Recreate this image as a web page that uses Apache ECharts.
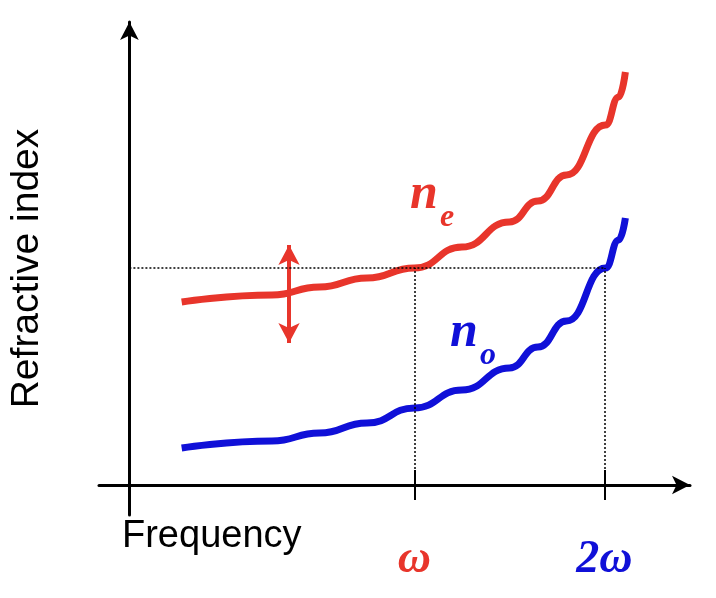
<!DOCTYPE html>
<html>
<head>
<meta charset="UTF-8" />
<script src="https://cdn.jsdelivr.net/npm/echarts@6/dist/echarts.min.js"></script>
<style>
  html, body, #chart { width: 100%; height: 100%; margin: 0; padding: 0; overflow: hidden; background: #fff; }
</style>
</head>
<body>
<div id="chart"></div>
<script>
// frequency (arbitrary units, omega = 3, 2omega = 5)
const freq = [0.55, 1.5, 2, 2.5, 3, 3.5, 4, 4.3, 4.6, 5.01, 5.15, 5.22];
const nExtra = [1.83, 1.9, 1.98, 2.07, 2.17, 2.38, 2.63, 2.84, 3.1, 3.6, 3.88, 4.13];
const nOrd = [0.37, 0.44, 0.52, 0.62, 0.77, 0.95, 1.17, 1.38, 1.64, 2.17, 2.45, 2.67];
const omega = 3, omega2 = 5, crossN = 2.17;
const tickLabels = ['ω', '2ω'];
const arrowX = 1.68, arrowTop = 2.4, arrowBottom = 1.42;

const chart = echarts.init(document.getElementById('chart'));
const pair = (xs, ys) => xs.map((x, i) => [x, ys[i]]);

chart.setOption({
  animation: false,
  grid: { left: 68, right: 26, top: 22, bottom: 83 },
  xAxis: {
    type: 'value', min: -0.32, max: 5.9,
    splitLine: { show: false },
    axisLine: { onZero: true, symbol: ['none', 'arrow'], symbolSize: [14, 18], lineStyle: { color: '#000', width: 3 } },
    axisTick: { show: false },
    axisLabel: {
      customValues: [omega, omega2], margin: 22,
      formatter: v => v === omega ? '{a|' + tickLabels[0] + '}' : '{b|' + tickLabels[1] + '}',
      rich: {
        a: { color: '#e8352b', fontSize: 46, fontStyle: 'italic', fontWeight: 'bold', fontFamily: 'Liberation Serif' },
        b: { color: '#1010d8', fontSize: 46, fontStyle: 'italic', fontWeight: 'bold', fontFamily: 'Liberation Serif' }
      }
    }
  },
  yAxis: {
    type: 'value', min: -0.3, max: 4.63,
    splitLine: { show: false },
    axisLine: { onZero: true, symbol: ['none', 'arrow'], symbolSize: [14, 18], lineStyle: { color: '#000', width: 3 } },
    axisTick: { show: false }, axisLabel: { show: false },
    name: 'Refractive index', nameLocation: 'middle', nameRotate: 90, nameGap: 52,
    nameTextStyle: { fontSize: 39, color: '#000', fontFamily: 'Liberation Sans' }
  },
  graphic: [
    { type: 'text', left: 122, top: 518, style: { text: 'Frequency', fontSize: 38, fill: '#000', fontFamily: 'Liberation Sans' } },
    { type: 'text', left: 410, top: 170, style: { text: 'n', fontSize: 50, fontStyle: 'italic', fontWeight: 'bold', fill: '#e8352b', fontFamily: 'Liberation Serif' } },
    { type: 'text', left: 440, top: 202, style: { text: 'e', fontSize: 32, fontStyle: 'italic', fontWeight: 'bold', fill: '#e8352b', fontFamily: 'Liberation Serif' } },
    { type: 'text', left: 450, top: 308, style: { text: 'n', fontSize: 50, fontStyle: 'italic', fontWeight: 'bold', fill: '#1010d8', fontFamily: 'Liberation Serif' } },
    { type: 'text', left: 480, top: 340, style: { text: 'o', fontSize: 32, fontStyle: 'italic', fontWeight: 'bold', fill: '#1010d8', fontFamily: 'Liberation Serif' } }
  ],
  series: [
    {
      type: 'line', data: pair(freq, nExtra), smooth: true, smoothMonotone: 'x', showSymbol: false,
      lineStyle: { color: '#e8352b', width: 7 },
      markLine: {
        silent: true, symbol: ['arrow', 'arrow'], symbolSize: [16, 20], label: { show: false },
        lineStyle: { color: '#e8352b', width: 4, type: 'solid' },
        data: [[{ coord: [arrowX, arrowTop] }, { coord: [arrowX, arrowBottom] }]]
      }
    },
    {
      type: 'line', data: pair(freq, nOrd), smooth: true, smoothMonotone: 'x', showSymbol: false,
      lineStyle: { color: '#1010d8', width: 7 },
      markLine: {
        silent: true, symbol: 'none', label: { show: false },
        lineStyle: { color: '#000', width: 1.5, type: [2, 2] },
        data: [
          [{ coord: [0, crossN] }, { coord: [omega2, crossN] }],
          [{ coord: [omega, 0] }, { coord: [omega, crossN] }],
          [{ coord: [omega2, 0] }, { coord: [omega2, crossN] }]
        ]
      }
    },
    {
      type: 'line', data: [], markLine: {
        silent: true, symbol: 'none', label: { show: false },
        lineStyle: { color: '#000', width: 2, type: 'solid' },
        data: [
          [{ coord: [omega, 0.15] }, { coord: [omega, -0.15] }],
          [{ coord: [omega2, 0.15] }, { coord: [omega2, -0.15] }]
        ]
      }
    }
  ]
});
</script>
</body>
</html>
